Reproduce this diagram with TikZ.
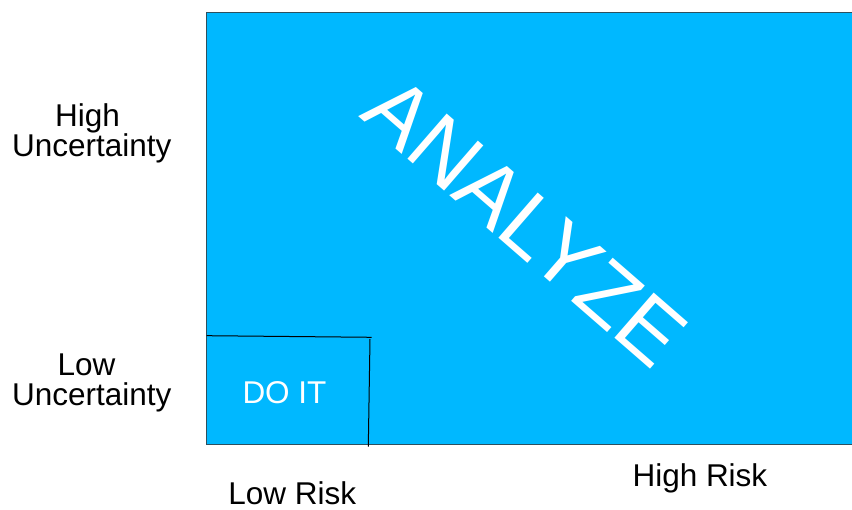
\documentclass[tikz,border=0pt]{standalone}
\usepackage{fontspec}
\setmainfont{Liberation Sans}
\definecolor{fieldblue}{RGB}{0,184,255}
\definecolor{fieldedge}{RGB}{45,80,95}
\begin{document}
\begin{tikzpicture}[x=1pt,y=-1pt,
  label/.style={inner sep=0pt, anchor=base, font=\fontsize{31.5}{31.5}\selectfont},
  inlabel/.style={label, text=white},
  bigword/.style={inner sep=0pt, anchor=base west, text=white, rotate=-41,
    font=\fontsize{87}{87}\selectfont},
  frameline/.style={draw=fieldedge, line width=1.5pt},
  splitline/.style={draw=black, line width=1pt}]
\useasboundingbox (0,0) rectangle (852,510);

% decision field
\coordinate (tl) at (206.7,12.7);
\coordinate (bl) at (206.7,444.5);
\coordinate (tr) at (853,12.7);
\coordinate (br) at (853,444.5);
\fill[fieldblue] (tl) rectangle (br);
\draw[frameline] (tr) -- (tl) -- (bl) -- (br);

% low-risk / low-uncertainty corner
\coordinate (cornerA) at (206.7,335.7);
\coordinate (cornerB) at (371.7,337.3);
\coordinate (cornerC) at (370,339);
\coordinate (cornerD) at (368.3,446.7);
\draw[splitline] (cornerA) -- (cornerB);
\draw[splitline] (cornerC) -- (cornerD);

% texts inside the field
\node[bigword] (analyze) at (358.5,116) {ANALYZE};
\node[inlabel] (doit) at (284.5,404) {DO IT};

% axis labels
\node[label] (high) at (87.5,126.7) {High};
\node[label] (uncHigh) at (91.7,156.7) {Uncertainty};
\node[label] (low) at (86.6,376) {Low};
\node[label] (uncLow) at (91.7,405.7) {Uncertainty};
\node[label] (lowrisk) at (292.3,505) {Low Risk};
\node[label] (highrisk) at (699.9,486.7) {High Risk};
\end{tikzpicture}
\end{document}
